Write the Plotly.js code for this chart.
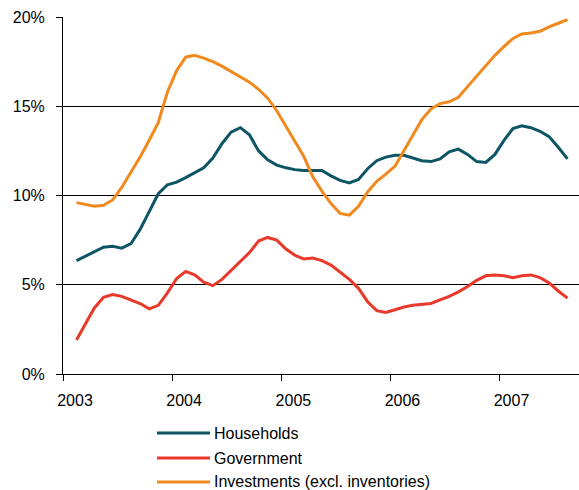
<!DOCTYPE html>
<html>
<head>
<meta charset="utf-8">
<script src="https://cdn.plot.ly/plotly-3.0.1.min.js"></script>
<style>
html,body{margin:0;padding:0;background:#fff;}
#chart{width:579px;height:490px;}
</style>
</head>
<body>
<div id="chart"></div>
<script>
var months = [
"2003-02","2003-03","2003-04","2003-05","2003-06","2003-07","2003-08","2003-09","2003-10","2003-11","2003-12",
"2004-01","2004-02","2004-03","2004-04","2004-05","2004-06","2004-07","2004-08","2004-09","2004-10","2004-11","2004-12",
"2005-01","2005-02","2005-03","2005-04","2005-05","2005-06","2005-07","2005-08","2005-09","2005-10","2005-11","2005-12",
"2006-01","2006-02","2006-03","2006-04","2006-05","2006-06","2006-07","2006-08","2006-09","2006-10","2006-11","2006-12",
"2007-01","2007-02","2007-03","2007-04","2007-05","2007-06","2007-07","2007-08"
];
var households = [
6.35,6.6,6.85,7.1,7.15,7.05,7.3,8.1,9.1,10.1,10.6,
10.75,11.0,11.25,11.55,12.1,12.9,13.55,13.8,13.4,12.5,12.0,11.7,
11.55,11.45,11.4,11.4,11.4,11.1,10.85,10.7,10.9,11.5,11.95,12.15,
12.25,12.25,12.1,11.95,11.9,12.05,12.45,12.6,12.3,11.9,11.85,12.3,
13.1,13.75,13.9,13.8,13.6,13.3,12.7,12.05
];
var government = [
1.9,2.75,3.7,4.3,4.45,4.35,4.15,3.95,3.65,3.85,4.55,
5.35,5.75,5.55,5.15,4.95,5.3,5.8,6.3,6.8,7.45,7.65,7.5,
7.0,6.65,6.45,6.5,6.35,6.1,5.7,5.3,4.8,4.05,3.55,3.45,
3.6,3.75,3.85,3.9,3.95,4.15,4.35,4.6,4.9,5.25,5.5,5.55,
5.5,5.4,5.5,5.55,5.4,5.1,4.65,4.25
];
var investments = [
9.6,9.5,9.4,9.45,9.75,10.45,11.3,12.15,13.1,14.1,15.8,
17.0,17.75,17.85,17.7,17.5,17.25,16.95,16.65,16.35,15.95,15.45,14.75,
13.85,13.05,12.2,11.05,10.25,9.55,9.0,8.9,9.4,10.2,10.8,11.2,
11.65,12.5,13.4,14.25,14.85,15.15,15.25,15.5,16.1,16.7,17.3,17.85,
18.35,18.8,19.05,19.1,19.2,19.45,19.65,19.85
];
var seriesNames = ["Households","Government","Investments (excl. inventories)"];
var seriesColors = ["#0d5565","#e8392a","#f08a1e"];
var seriesData = [households, government, investments];
var yTickVals = [0,5,10,15,20];
var yTickText = ["0%","5%","10%","15%","20%"];
var xTickVals = ["2003-01-01","2004-01-01","2005-01-01","2006-01-01","2007-01-01"];
var xTickText = ["2003","2004","2005","2006","2007"];

var traces = seriesData.map(function(d,i){
  return {
    type:"scatter", mode:"lines", x:months, y:d, name:seriesNames[i],
    xperiod:"M1", xperiodalignment:"middle",
    line:{color:seriesColors[i], width:3}
  };
});

var legendY = [-0.1653,-0.2353,-0.3025];
var shapes = [], annotations = [];
seriesNames.forEach(function(n,i){
  shapes.push({type:"line", xref:"paper", yref:"paper", x0:0.1822, x1:0.2849, y0:legendY[i], y1:legendY[i],
    line:{color:seriesColors[i], width:3}});
  annotations.push({xref:"paper", yref:"paper", x:0.2888, y:legendY[i], xanchor:"left", yanchor:"middle",
    text:n, showarrow:false, font:{size:16, color:"#000"}});
});

var layout = {
  width:579, height:490,
  margin:{l:63, r:0, t:17, b:116},
  paper_bgcolor:"#fff", plot_bgcolor:"#fff",
  showlegend:false,
  font:{family:"Liberation Sans, Arial, sans-serif", size:16, color:"#000"},
  xaxis:{
    type:"date", range:["2003-01-01","2007-09-24"],
    tickvals:xTickVals, ticktext:xTickText,
    ticks:"outside", ticklen:6, tickcolor:"#000", tickwidth:1,
    showgrid:false, showline:true, linecolor:"#000", linewidth:1,
    zeroline:false, ticklabelshift:12, ticklabelstandoff:6,
    tickfont:{size:16}
  },
  yaxis:{
    range:[0,20], tickvals:yTickVals, ticktext:yTickText,
    ticks:"outside", ticklen:6, tickcolor:"#000", tickwidth:1,
    showgrid:true, gridcolor:"#000", gridwidth:1,
    showline:true, linecolor:"#000", linewidth:1,
    zeroline:false, ticklabelstandoff:8,
    tickfont:{size:16}
  },
  shapes:shapes, annotations:annotations
};
Plotly.newPlot("chart", traces, layout, {displayModeBar:false, staticPlot:true});
</script>
</body>
</html>
